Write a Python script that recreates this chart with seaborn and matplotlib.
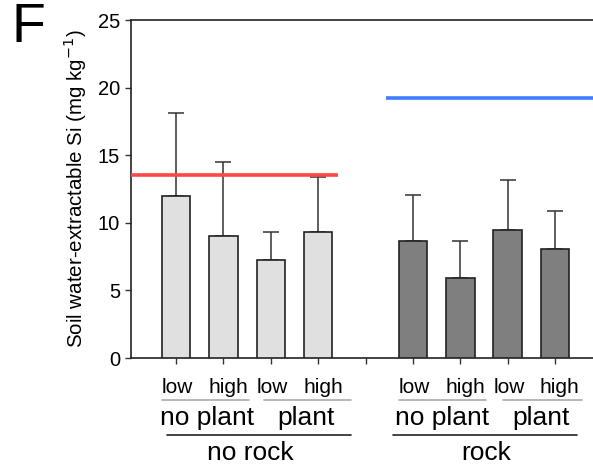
import matplotlib
matplotlib.use("Agg")
import matplotlib.pyplot as plt
import matplotlib.transforms as mtransforms
import seaborn as sns
import pandas as pd
import numpy as np

# ---- data ----
categories = ["nr_np_low", "nr_np_high", "nr_p_low", "nr_p_high", "gap",
              "r_np_low", "r_np_high", "r_p_low", "r_p_high"]
bar_categories = ["nr_np_low", "nr_np_high", "nr_p_low", "nr_p_high",
                  "r_np_low", "r_np_high", "r_p_low", "r_p_high"]
rock = ["no rock"] * 4 + ["rock"] * 4
means = [12.0, 9.0, 7.25, 9.3, 8.65, 5.9, 9.5, 8.05]
err_upper = [6.1, 5.5, 2.05, 4.1, 3.4, 2.75, 3.65, 2.85]
level_labels = ["low", "high", "low", "high", "", "low", "high", "low", "high"]
plant_labels = ["no plant", "plant", "no plant", "plant"]
rock_labels = ["no rock", "rock"]
ref_no_rock = 13.5
ref_rock = 19.25
yticks = [0, 5, 10, 15, 20, 25]
ylabel = "Soil water-extractable Si (mg kg$^{-1}$)"

df = pd.DataFrame({"cat": bar_categories, "val": means, "rock": rock})

sns.set_theme(style="white")
plt.rcParams["font.family"] = ["Liberation Sans", "DejaVu Sans"]
plt.rcParams["text.color"] = "black"
plt.rcParams["xtick.color"] = "black"
plt.rcParams["ytick.color"] = "black"
plt.rcParams["axes.labelcolor"] = "black"

fig = plt.figure(figsize=(5.93, 4.66), dpi=100)
ax = fig.add_axes([131 / 593, 1 - 358 / 466, 1 - 131 / 593, (358 - 20) / 466])

sns.barplot(data=df, x="cat", y="val", hue="rock", order=categories,
            palette={"no rock": "#e0e0e0", "rock": "#7f7f7f"},
            dodge=False, width=0.6, edgecolor="#222222", linewidth=1.2,
            errorbar=None, legend=False, ax=ax, zorder=3)

pos = [categories.index(c) for c in bar_categories]
ax.errorbar(pos, means, yerr=[np.zeros(len(means)), err_upper], fmt="none",
            ecolor="#333333", elinewidth=1.1, capsize=5.5, capthick=1.1, zorder=2)

ax.set_xlim(-0.95, 8.8)
ax.set_ylim(0, 25)
ax.set_yticks(yticks)
ax.set_yticklabels([str(t) for t in yticks], fontsize=14.5)
ax.set_xticks(range(len(categories)))
ax.set_xticklabels([""] * len(categories))
ax.tick_params(axis="both", direction="out", length=4, width=1, color="#333333",
               left=True, bottom=True, pad=4)
ax.set_xlabel("")
ax.set_ylabel("")
for s in ["left", "bottom", "top"]:
    ax.spines[s].set_visible(True)
    ax.spines[s].set_color("#222222")
    ax.spines[s].set_linewidth(1.2)
ax.spines["right"].set_visible(False)

# reference lines
ax.hlines(ref_no_rock, -0.95, 3.41, color="#ff4545", lw=2.6, zorder=4)
ax.hlines(ref_rock, 4.44, 8.8, color="#3f7fff", lw=2.6, zorder=4)

# y label and panel letter
fig.text(75 / 593, 1 - 189 / 466, ylabel, rotation=90, ha="center", va="center",
         fontsize=14.8)
fig.text(12 / 593, 1 - 2 / 466, "F", fontsize=40, ha="left", va="top")

# hierarchical x labels
trans = mtransforms.blended_transform_factory(ax.transData, fig.transFigure)
for i, lab in enumerate(level_labels):
    if lab:
        off = 0.1 if lab == "high" else 0.03
        ax.text(i + off, 1 - 393 / 466, lab, transform=trans, ha="center",
                va="baseline", fontsize=15, clip_on=False)

gray_spans = [(-0.3, 1.54), (1.85, 3.7), (4.7, 6.55), (6.9, 8.57)]
for a, b in gray_spans:
    ax.plot([a, b], [1 - 400 / 466] * 2, transform=trans, color="#aaaaaa",
            lw=1.2, clip_on=False)

plant_x = [0.65, 2.74, 5.62, 7.7]
for x, lab in zip(plant_x, plant_labels):
    ax.text(x, 1 - 425 / 466, lab, transform=trans, ha="center", va="baseline",
            fontsize=19, clip_on=False)

black_spans = [(-0.19, 3.7), (4.57, 8.46)]
for a, b in black_spans:
    ax.plot([a, b], [1 - 435 / 466] * 2, transform=trans, color="#222222",
            lw=1.2, clip_on=False)

rock_x = [1.56, 6.55]
for x, lab in zip(rock_x, rock_labels):
    ax.text(x, 1 - 460 / 466, lab, transform=trans, ha="center", va="baseline",
            fontsize=19, clip_on=False)

fig.savefig("out.png", dpi=100)
